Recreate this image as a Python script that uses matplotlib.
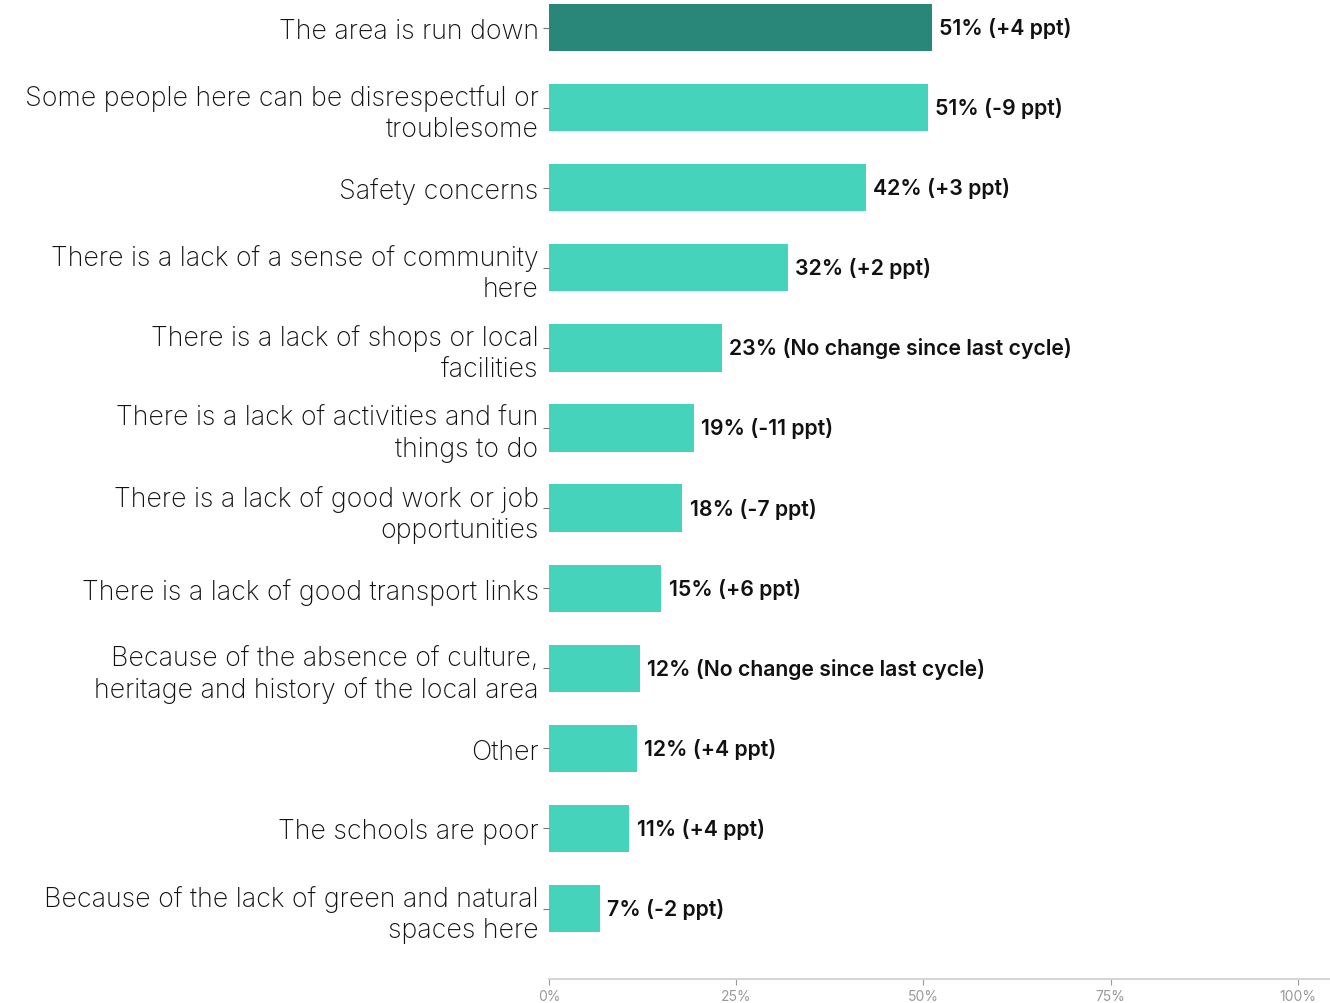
import numpy as np
import matplotlib.pyplot as plt

# Reasons given, share of respondents (%) and change since last cycle (ppt)
reasons = [
    "The area is run down",
    "Some people here can be disrespectful or\ntroublesome",
    "Safety concerns",
    "There is a lack of a sense of community\nhere",
    "There is a lack of shops or local\nfacilities",
    "There is a lack of activities and fun\nthings to do",
    "There is a lack of good work or job\nopportunities",
    "There is a lack of good transport links",
    "Because of the absence of culture,\nheritage and history of the local area",
    "Other",
    "The schools are poor",
    "Because of the lack of green and natural\nspaces here",
]
share = [51.1, 50.6, 42.3, 31.9, 23.1, 19.3, 17.8, 15.0, 12.1, 11.7, 10.7, 6.8]
change = [4, -9, 3, 2, None, -11, -7, 6, None, 4, 4, -2]
xticks = [0, 25, 50, 75, 100]

dark = "#29877a"
light = "#45d3bc"

plt.rcParams['font.family'] = ['Inter', 'DejaVu Sans']

fig = plt.figure(figsize=(13.3, 10.04), dpi=100)
ax = fig.add_axes([549 / 1330, 1 - 980 / 1004, 1 - 549 / 1330, 980 / 1004])

y = np.arange(len(reasons))
colors = [dark] + [light] * (len(reasons) - 1)
ax.barh(y, share, height=0.59, color=colors)

for yi, v, c in zip(y, share, change):
    if c is None:
        txt = f"{v:.0f}% (No change since last cycle)"
    else:
        txt = f"{v:.0f}% ({c:+d} ppt)"
    ax.text(v + 1.0, yi, txt, va='center', ha='left', fontsize=15.3,
            fontweight='semibold', color='#111111')

ax.set_ylim(11.88, -0.356)
ax.set_xlim(0, 104.3)
ax.set_yticks(y)
ax.set_yticklabels(reasons, fontsize=19.3, color='#111111', linespacing=1.25,
                   fontweight='light')
ax.tick_params(axis='y', length=4, color='#777777', pad=3.5)
ax.set_xticks(xticks)
ax.set_xticklabels([f"{t}%" for t in xticks], fontsize=10, color='#999999')
ax.tick_params(axis='x', length=4, color='#999999', pad=3)

for s in ['top', 'right', 'left']:
    ax.spines[s].set_visible(False)
ax.spines['bottom'].set_color('#d5d5d5')
ax.spines['bottom'].set_linewidth(1.5)

fig.savefig("out.png", dpi=100)
